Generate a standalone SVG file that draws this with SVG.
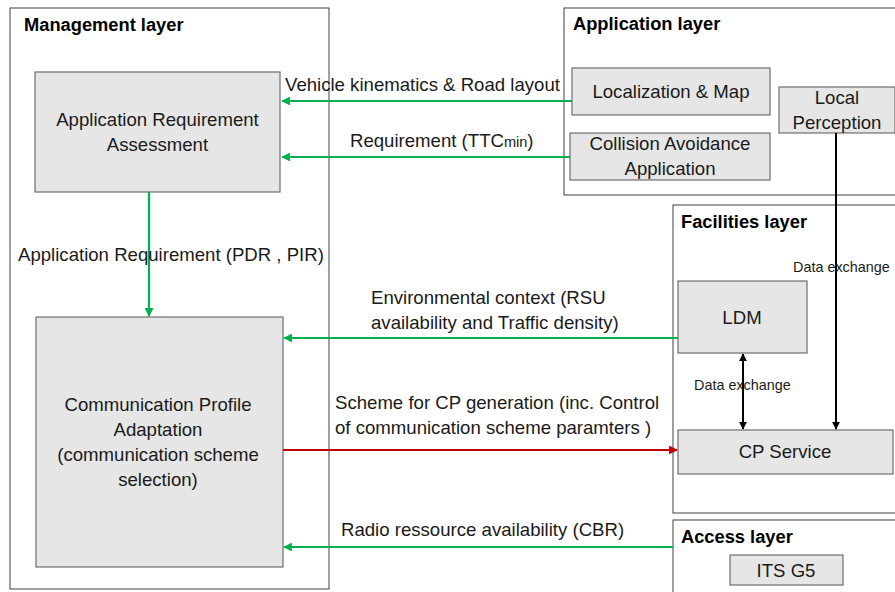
<svg xmlns="http://www.w3.org/2000/svg" width="895" height="592" viewBox="0 0 895 592">
<style>
.layer{fill:#ffffff;stroke:#404040;stroke-width:1}
.box{fill:#e6e6e6;stroke:#6e6e6e;stroke-width:1.2}
.title{font-family:"Liberation Sans",Arial,sans-serif;font-weight:bold;font-size:18.3px;fill:#000}
.t{font-family:"Liberation Sans",Arial,sans-serif;font-size:18.6px;fill:#1a1a1a}
.s{font-family:"Liberation Sans",Arial,sans-serif;font-size:14.4px;fill:#1a1a1a}
.g{stroke:#00b050;stroke-width:2.2;fill:none}
.r{stroke:#c00000;stroke-width:2.2;fill:none}
.k{stroke:#000;stroke-width:2;fill:none}
</style>
<defs>
<marker id="ag" viewBox="0 0 10 10" refX="9" refY="5" markerWidth="4" markerHeight="4" orient="auto-start-reverse"><path d="M0,0 L10,5 L0,10 z" fill="#00b050"/></marker>
<marker id="ar" viewBox="0 0 10 10" refX="9" refY="5" markerWidth="4" markerHeight="4" orient="auto-start-reverse"><path d="M0,0 L10,5 L0,10 z" fill="#c00000"/></marker>
<marker id="ak" viewBox="0 0 10 10" refX="9" refY="5" markerWidth="4" markerHeight="4" orient="auto-start-reverse"><path d="M0,0 L10,5 L0,10 z" fill="#000"/></marker>
</defs>
<rect width="895" height="592" fill="#ffffff"/>

<g id="management-layer">
<rect class="layer" x="10" y="8" width="319" height="581"/>
<text class="title" x="24" y="31">Management layer</text>
</g>
<g id="application-layer">
<rect class="layer" x="564" y="8" width="340" height="187"/>
<text class="title" x="573" y="30">Application layer</text>
</g>
<g id="facilities-layer">
<rect class="layer" x="673" y="205" width="240" height="308"/>
<text class="title" x="681" y="228">Facilities layer</text>
</g>
<g id="access-layer">
<rect class="layer" x="673" y="520" width="240" height="80"/>
<text class="title" x="681" y="543">Access layer</text>
</g>

<g id="ara">
<rect class="box" x="35" y="72" width="245" height="120"/>
<text class="t" x="157.5" y="126" text-anchor="middle">Application Requirement</text>
<text class="t" x="157.5" y="151" text-anchor="middle">Assessment</text>
</g>
<g id="cpa">
<rect class="box" x="36" y="317" width="247" height="250"/>
<text class="t" x="158" y="411" text-anchor="middle">Communication Profile</text>
<text class="t" x="158" y="436" text-anchor="middle">Adaptation</text>
<text class="t" x="158" y="461" text-anchor="middle">(communication scheme</text>
<text class="t" x="158" y="486" text-anchor="middle">selection)</text>
</g>
<g id="loc">
<rect class="box" x="572" y="68" width="198" height="47"/>
<text class="t" x="671" y="98" text-anchor="middle">Localization &amp; Map</text>
</g>
<g id="cav">
<rect class="box" x="570" y="133" width="200" height="47"/>
<text class="t" x="670" y="150" text-anchor="middle">Collision Avoidance</text>
<text class="t" x="670" y="175" text-anchor="middle">Application</text>
</g>
<g id="lp">
<rect class="box" x="779" y="87" width="116" height="46"/>
<text class="t" x="837" y="104" text-anchor="middle">Local</text>
<text class="t" x="837" y="129" text-anchor="middle">Perception</text>
</g>
<g id="ldm">
<rect class="box" x="678" y="281" width="129" height="72"/>
<text class="t" x="742" y="324" text-anchor="middle">LDM</text>
</g>
<g id="cps">
<rect class="box" x="678" y="430" width="215" height="44"/>
<text class="t" x="785" y="458" text-anchor="middle">CP Service</text>
</g>
<g id="its">
<rect class="box" x="730" y="555" width="113" height="30"/>
<text class="t" x="786" y="577" text-anchor="middle">ITS G5</text>
</g>

<g id="connectors">
<line class="g" x1="572" y1="101" x2="282" y2="101" marker-end="url(#ag)"/>
<text class="t" x="285" y="91">Vehicle kinematics &amp; Road layout</text>
<line class="g" x1="570" y1="157" x2="282" y2="157" marker-end="url(#ag)"/>
<text class="t" x="350" y="147">Requirement (TTC<tspan font-size="14.5">min</tspan>)</text>
<line class="g" x1="149" y1="192" x2="149" y2="316" marker-end="url(#ag)"/>
<text class="t" x="18" y="261">Application Requirement (PDR , PIR)</text>
<line class="g" x1="678" y1="338" x2="284" y2="338" marker-end="url(#ag)"/>
<text class="t" x="371" y="304">Environmental context (RSU</text>
<text class="t" x="371" y="329">availability  and Traffic density)</text>
<line class="r" x1="283" y1="450" x2="677" y2="450" marker-end="url(#ar)"/>
<text class="t" x="335" y="409">Scheme for CP generation (inc. Control</text>
<text class="t" x="335" y="434">of communication scheme paramters )</text>
<line class="g" x1="673" y1="547" x2="284" y2="547" marker-end="url(#ag)"/>
<text class="t" x="341" y="536">Radio ressource availability (CBR)</text>
<line class="k" x1="836" y1="133" x2="836" y2="429" marker-end="url(#ak)"/>
<text class="s" x="793" y="272">Data exchange</text>
<line class="k" x1="743" y1="354" x2="743" y2="429" marker-start="url(#ak)" marker-end="url(#ak)"/>
<text class="s" x="694" y="390">Data exchange</text>
</g>
</svg>
